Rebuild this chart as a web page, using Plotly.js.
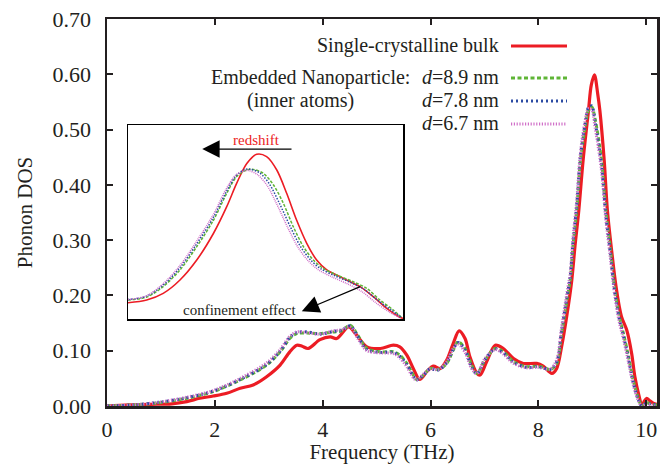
<!DOCTYPE html>
<html>
<head>
<meta charset="utf-8">
<script src="https://cdn.plot.ly/plotly-3.0.1.min.js"></script>
<style>html,body{margin:0;padding:0;background:#fff;}#chart{width:660px;height:464px;}</style>
</head>
<body>
<div id="chart"></div>
<script>
// ---- Main panel data (frequency in THz, phonon DOS) ----
const bulkFreq = [0, 0.4, 0.8, 1.2, 1.48, 1.72, 1.97, 2.22, 2.47, 2.71, 2.96, 3.21, 3.39, 3.52, 3.62, 3.73, 3.95, 4.14, 4.26, 4.48, 4.6, 4.82, 5.07, 5.31, 5.43, 5.56, 5.68, 5.8, 5.93, 6.05, 6.18, 6.3, 6.42, 6.53, 6.64, 6.73, 6.86, 6.92, 7.04, 7.2, 7.35, 7.54, 7.72, 7.97, 8.09, 8.25, 8.34, 8.43, 8.53, 8.62, 8.68, 8.75, 8.83, 8.93, 8.98, 9.04, 9.10, 9.14, 9.22, 9.28, 9.36, 9.44, 9.54, 9.64, 9.73, 9.79, 9.87, 9.92, 9.96, 10.01, 10.06, 10.13, 10.2];
const bulkDOS  = [0.0, 0.002, 0.003, 0.004, 0.008, 0.014, 0.018, 0.023, 0.032, 0.038, 0.053, 0.074, 0.098, 0.110, 0.108, 0.104, 0.120, 0.125, 0.122, 0.143, 0.132, 0.107, 0.104, 0.110, 0.107, 0.092, 0.068, 0.048, 0.062, 0.072, 0.068, 0.083, 0.113, 0.136, 0.122, 0.089, 0.059, 0.056, 0.080, 0.110, 0.104, 0.086, 0.077, 0.077, 0.072, 0.059, 0.068, 0.107, 0.165, 0.228, 0.290, 0.354, 0.445, 0.535, 0.580, 0.599, 0.565, 0.535, 0.445, 0.354, 0.280, 0.216, 0.162, 0.137, 0.095, 0.053, 0.017, 0.0, 0.008, 0.014, 0.010, 0.005, 0.003];

const npFreq = [0, 0.5, 0.98, 1.48, 1.97, 2.47, 2.96, 3.21, 3.39, 3.52, 3.71, 3.95, 4.2, 4.35, 4.51, 4.65, 4.82, 5.07, 5.31, 5.43, 5.56, 5.68, 5.74, 5.87, 5.99, 6.14, 6.30, 6.42, 6.51, 6.64, 6.76, 6.86, 7.01, 7.20, 7.35, 7.54, 7.78, 7.97, 8.09, 8.22, 8.34, 8.43, 8.53, 8.59, 8.64, 8.71, 8.78, 8.86, 8.93, 8.99, 9.05, 9.17, 9.25, 9.33, 9.41, 9.50, 9.58, 9.67, 9.75, 9.85, 9.92, 10.0, 10.1, 10.2];
const np89DOS = [0, 0.002, 0.006, 0.014, 0.026, 0.047, 0.074, 0.098, 0.122, 0.131, 0.132, 0.131, 0.134, 0.136, 0.146, 0.128, 0.104, 0.098, 0.098, 0.092, 0.077, 0.056, 0.048, 0.056, 0.068, 0.066, 0.077, 0.101, 0.116, 0.104, 0.074, 0.059, 0.083, 0.104, 0.098, 0.080, 0.071, 0.072, 0.070, 0.066, 0.077, 0.131, 0.192, 0.228, 0.288, 0.354, 0.445, 0.500, 0.535, 0.541, 0.520, 0.445, 0.354, 0.288, 0.216, 0.162, 0.130, 0.090, 0.050, 0.015, 0.0, 0.006, 0.003, 0.002];
const np78DOS = [0, 0.002, 0.007, 0.015, 0.027, 0.048, 0.075, 0.099, 0.124, 0.133, 0.134, 0.130, 0.135, 0.137, 0.145, 0.126, 0.102, 0.097, 0.097, 0.090, 0.075, 0.054, 0.047, 0.056, 0.067, 0.065, 0.078, 0.102, 0.115, 0.101, 0.071, 0.058, 0.084, 0.103, 0.096, 0.079, 0.070, 0.071, 0.069, 0.066, 0.080, 0.136, 0.198, 0.234, 0.295, 0.362, 0.452, 0.507, 0.540, 0.543, 0.515, 0.436, 0.346, 0.280, 0.210, 0.158, 0.126, 0.086, 0.046, 0.012, 0.0, 0.005, 0.003, 0.002];
const np67DOS = [0, 0.002, 0.007, 0.016, 0.028, 0.050, 0.078, 0.102, 0.126, 0.134, 0.133, 0.130, 0.136, 0.138, 0.143, 0.122, 0.100, 0.096, 0.095, 0.087, 0.071, 0.051, 0.047, 0.058, 0.067, 0.066, 0.080, 0.104, 0.112, 0.097, 0.068, 0.059, 0.086, 0.102, 0.094, 0.077, 0.069, 0.070, 0.068, 0.067, 0.084, 0.142, 0.205, 0.240, 0.302, 0.370, 0.458, 0.512, 0.538, 0.536, 0.505, 0.426, 0.338, 0.272, 0.204, 0.152, 0.120, 0.080, 0.042, 0.010, 0.0, 0.004, 0.002, 0.001];

// ---- Inset (schematic, normalised units) ----
const insBulkX = [0.0, 0.068, 0.128, 0.189, 0.25, 0.311, 0.359, 0.395, 0.432, 0.468, 0.504, 0.541, 0.577, 0.613, 0.65, 0.686, 0.723, 0.771, 0.819, 0.844, 0.892, 0.941, 0.989, 1.0];
const insBulkY = [0.084, 0.098, 0.132, 0.201, 0.304, 0.442, 0.579, 0.699, 0.802, 0.849, 0.837, 0.768, 0.648, 0.510, 0.390, 0.304, 0.253, 0.218, 0.184, 0.167, 0.115, 0.055, 0.009, 0.003];
const ins89X = [0.0, 0.068, 0.128, 0.189, 0.25, 0.311, 0.359, 0.395, 0.432, 0.456, 0.492, 0.529, 0.565, 0.601, 0.638, 0.674, 0.71, 0.759, 0.819, 0.868, 0.916, 0.965, 0.995];
const ins89Y = [0.098, 0.113, 0.167, 0.253, 0.373, 0.510, 0.648, 0.734, 0.768, 0.771, 0.751, 0.691, 0.596, 0.476, 0.373, 0.304, 0.261, 0.227, 0.192, 0.158, 0.098, 0.046, 0.008];
const ins78X = [0.0, 0.068, 0.128, 0.189, 0.25, 0.311, 0.359, 0.395, 0.425, 0.445, 0.48, 0.515, 0.55, 0.59, 0.628, 0.665, 0.70, 0.75, 0.81, 0.86, 0.91, 0.96, 0.995];
const ins78Y = [0.100, 0.118, 0.175, 0.265, 0.388, 0.525, 0.66, 0.742, 0.770, 0.772, 0.752, 0.694, 0.598, 0.476, 0.372, 0.303, 0.260, 0.224, 0.188, 0.152, 0.094, 0.043, 0.007];
const ins67X = [0.0, 0.068, 0.128, 0.189, 0.25, 0.311, 0.355, 0.39, 0.418, 0.438, 0.47, 0.505, 0.54, 0.58, 0.618, 0.655, 0.69, 0.74, 0.80, 0.85, 0.90, 0.95, 0.99];
const ins67Y = [0.100, 0.120, 0.182, 0.276, 0.402, 0.54, 0.665, 0.74, 0.762, 0.765, 0.745, 0.69, 0.595, 0.474, 0.37, 0.30, 0.256, 0.218, 0.180, 0.142, 0.085, 0.036, 0.005];

const xTicks = [0, 2, 4, 6, 8, 10];
const yTicks = [0, 0.1, 0.2, 0.3, 0.4, 0.5, 0.6, 0.7];
const seriesNames = ['Single-crystalline bulk', 'd=8.9 nm', 'd=7.8 nm', 'd=6.7 nm'];

const RED = '#ec1c24', GREEN = '#5fb536', BLUE = '#2b4ba3', PINK = '#d070c8';
const FONT = 'Liberation Serif, Times New Roman, serif';
const INK = '#231f20';

function tr(x, y, color, width, dash, axes, name) {
  return {x: x, y: y, type: 'scatter', mode: 'lines', name: name, showlegend: false,
    xaxis: axes[0], yaxis: axes[1], hoverinfo: 'skip',
    line: {color: color, width: width, dash: dash, shape: 'spline', smoothing: 0.9}};
}

const data = [
  tr(bulkFreq, bulkDOS, RED, 3.2, 'solid', ['x', 'y'], seriesNames[0]),
  tr(npFreq, np89DOS, GREEN, 3, '4px,2.5px', ['x', 'y'], seriesNames[1]),
  tr(npFreq, np78DOS, BLUE, 3, '2px,3px', ['x', 'y'], seriesNames[2]),
  tr(npFreq, np67DOS, PINK, 3, '1.2px,1.6px', ['x', 'y'], seriesNames[3]),
  tr(insBulkX, insBulkY, RED, 1.6, 'solid', ['x2', 'y2'], seriesNames[0]),
  tr(ins89X, ins89Y, GREEN, 1.5, '3px,1.5px', ['x2', 'y2'], seriesNames[1]),
  tr(ins78X, ins78Y, BLUE, 1.5, '1.5px,1.5px', ['x2', 'y2'], seriesNames[2]),
  tr(ins67X, ins67Y, PINK, 1.5, '1px,1px', ['x2', 'y2'], seriesNames[3])
];

// paper helpers for legend placement (pixel -> paper)
const L = 107, R = 657, T = 19, B = 406;
const px = v => (v - L) / (R - L);
const py = v => (B - v) / (B - T);
const LEG = 20;

const legendRows = [
  {text: 'Single-crystalline bulk', y: 45, color: RED, dash: 'solid', w: 3},
  {text: '<i>d</i>=8.9 nm', y: 77, color: GREEN, dash: '4px,2.5px', w: 3},
  {text: '<i>d</i>=7.8 nm', y: 100, color: BLUE, dash: '2px,3px', w: 3},
  {text: '<i>d</i>=6.7 nm', y: 123, color: PINK, dash: '1.2px,1.6px', w: 3}
];

const annotations = [];
const shapes = [];
legendRows.forEach(r => {
  annotations.push({xref: 'paper', yref: 'paper', x: px(500), y: py(r.y), xanchor: 'right', yanchor: 'middle',
    text: r.text, showarrow: false, borderpad: 0, font: {family: FONT, size: LEG, color: INK}});
  shapes.push({type: 'line', xref: 'paper', yref: 'paper', x0: px(511), x1: px(567), y0: py(r.y + 1), y1: py(r.y + 1),
    line: {color: r.color, width: r.w, dash: r.dash}});
});
annotations.push({xref: 'paper', yref: 'paper', x: px(411), y: py(77), xanchor: 'right', yanchor: 'middle',
  text: 'Embedded Nanoparticle:', showarrow: false, borderpad: 0, font: {family: FONT, size: LEG, color: INK}});
annotations.push({xref: 'paper', yref: 'paper', x: px(300), y: py(100), xanchor: 'center', yanchor: 'middle',
  text: '(inner atoms)', showarrow: false, borderpad: 0, font: {family: FONT, size: LEG, color: INK}});

// inset annotations
annotations.push({xref: 'x2', yref: 'y2', x: 0.27, y: 0.876, ax: 0.6, ay: 0.876, axref: 'x2', ayref: 'y2',
  showarrow: true, arrowhead: 2, arrowsize: 2.9, arrowwidth: 1.2, arrowcolor: '#000', text: ''});
annotations.push({xref: 'x2', yref: 'y2', x: 0.469, y: 0.925, xanchor: 'center', yanchor: 'middle',
  text: 'redshift', showarrow: false, borderpad: 0, font: {family: FONT, size: 15, color: RED}});
annotations.push({xref: 'x2', yref: 'y2', x: 0.632, y: 0.04, ax: 0.85, ay: 0.17, axref: 'x2', ayref: 'y2',
  showarrow: true, arrowhead: 2, arrowsize: 2.9, arrowwidth: 1.2, arrowcolor: '#000', text: ''});
annotations.push({xref: 'x2', yref: 'y2', x: 0.405, y: 0.048, xanchor: 'center', yanchor: 'middle',
  text: 'confinement effect', showarrow: false, borderpad: 0, font: {family: FONT, size: 15, color: INK}});

const axisCommon = {
  showline: true, linewidth: 2.5, linecolor: INK, mirror: 'ticks',
  ticks: 'inside', ticklen: 6, tickwidth: 2, tickcolor: INK,
  showgrid: false, zeroline: false,
  tickfont: {family: FONT, size: 22, color: INK}
};

const layout = {
  width: 660, height: 464,
  margin: {l: L, r: 660 - R, t: T, b: 464 - B},
  paper_bgcolor: '#fff', plot_bgcolor: '#fff',
  showlegend: false,
  xaxis: Object.assign({}, axisCommon, {range: [0, 10.2], tickvals: xTicks, ticktext: xTicks.map(String),
    ticklabelstandoff: 2,
    title: {text: 'Frequency (THz)', font: {family: FONT, size: 21, color: INK}, standoff: 6}}),
  yaxis: Object.assign({}, axisCommon, {range: [0, 0.7], tickvals: yTicks, ticktext: yTicks.map(v => v.toFixed(2)),
    ticklabelstandoff: 9,
    title: {text: 'Phonon DOS', font: {family: FONT, size: 21, color: INK}, standoff: 14}}),
  xaxis2: {domain: [px(128), px(403)], anchor: 'y2', range: [0, 1], showline: true, mirror: true, linewidth: 1.5,
    linecolor: '#000', showticklabels: false, ticks: '', showgrid: false, zeroline: false},
  yaxis2: {domain: [py(319), py(125)], anchor: 'x2', range: [0, 1], showline: true, mirror: true, linewidth: 1.5,
    linecolor: '#000', showticklabels: false, ticks: '', showgrid: false, zeroline: false},
  annotations: annotations,
  shapes: shapes
};

Plotly.newPlot('chart', data, layout, {staticPlot: true, displayModeBar: false});
</script>
</body>
</html>
